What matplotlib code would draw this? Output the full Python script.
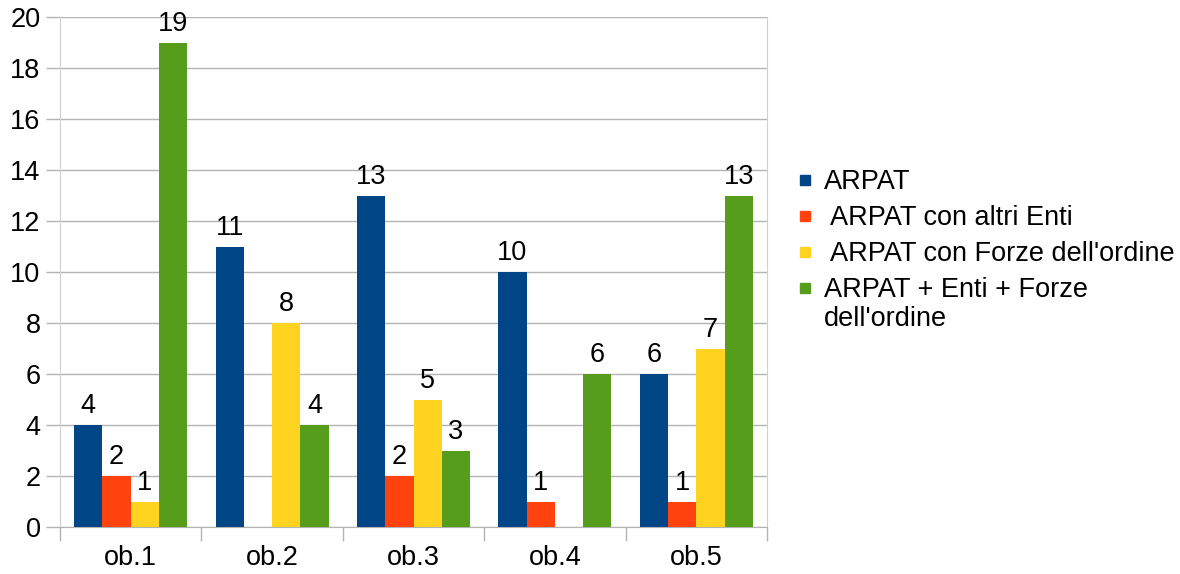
import numpy as np
import matplotlib.pyplot as plt
from matplotlib.patches import Rectangle

plt.rcParams['font.family'] = ['Liberation Sans', 'DejaVu Sans']

categories = ["ob.1", "ob.2", "ob.3", "ob.4", "ob.5"]
series_names = ["ARPAT", " ARPAT con altri Enti", " ARPAT con Forze dell'ordine",
                "ARPAT + Enti + Forze\ndell'ordine"]
arpat = [4, 11, 13, 10, 6]
arpat_enti = [2, 0, 2, 1, 1]
arpat_forze = [1, 8, 5, 0, 7]
arpat_tutti = [19, 4, 3, 6, 13]
colors = ["#004586", "#ff420e", "#ffd320", "#579d1c"]

W, H = 1180, 574
fs = 19.5
fig = plt.figure(figsize=(W / 100, H / 100), dpi=100)
ax = fig.add_axes([60 / W, 47 / H, 707 / W, 510 / H])

x = np.arange(len(categories))
w = 0.2
grid_c = "#b3b3b3"
for i, vals in enumerate([arpat, arpat_enti, arpat_forze, arpat_tutti]):
    bars = ax.bar(x + (i - 1.5) * w, vals, w, color=colors[i], zorder=3)
    labels = [str(v) if v else "" for v in vals]
    ax.bar_label(bars, labels=labels, padding=4, fontsize=fs)

ax.set_xlim(-0.5, 4.5)
ax.set_ylim(0, 20)
ax.set_yticks(range(0, 21, 2))
ax.yaxis.grid(True, color=grid_c, linewidth=1, zorder=0)
ax.set_xticks(x)
ax.set_xticklabels(categories)
ax.set_xticks(np.arange(-0.5, 5, 1), minor=True)
ax.tick_params(axis='x', which='major', length=0, pad=13, labelsize=fs)
ax.tick_params(axis='x', which='minor', length=10, color=grid_c, width=1)
ax.tick_params(axis='y', length=10, color=grid_c, width=1, labelsize=fs, pad=4)

for s in ["left", "right"]:
    ax.spines[s].set_color("#d0d0d0")
ax.spines["top"].set_visible(False)
ax.spines["bottom"].set_color(grid_c)

# legend drawn by hand so the wrapped label keeps its square on the first line
for i, (name, c) in enumerate(zip(series_names, colors)):
    yc = 180 + 36 * i
    fig.patches.append(Rectangle((800 / W, 1 - (yc + 5) / H), 10 / W, 10 / H,
                                 transform=fig.transFigure, color=c))
    fig.text(824 / W, 1 - (yc - 11) / H, name, fontsize=fs, va="top", ha="left",
             linespacing=1.15)

fig.savefig("out.png", dpi=100)
